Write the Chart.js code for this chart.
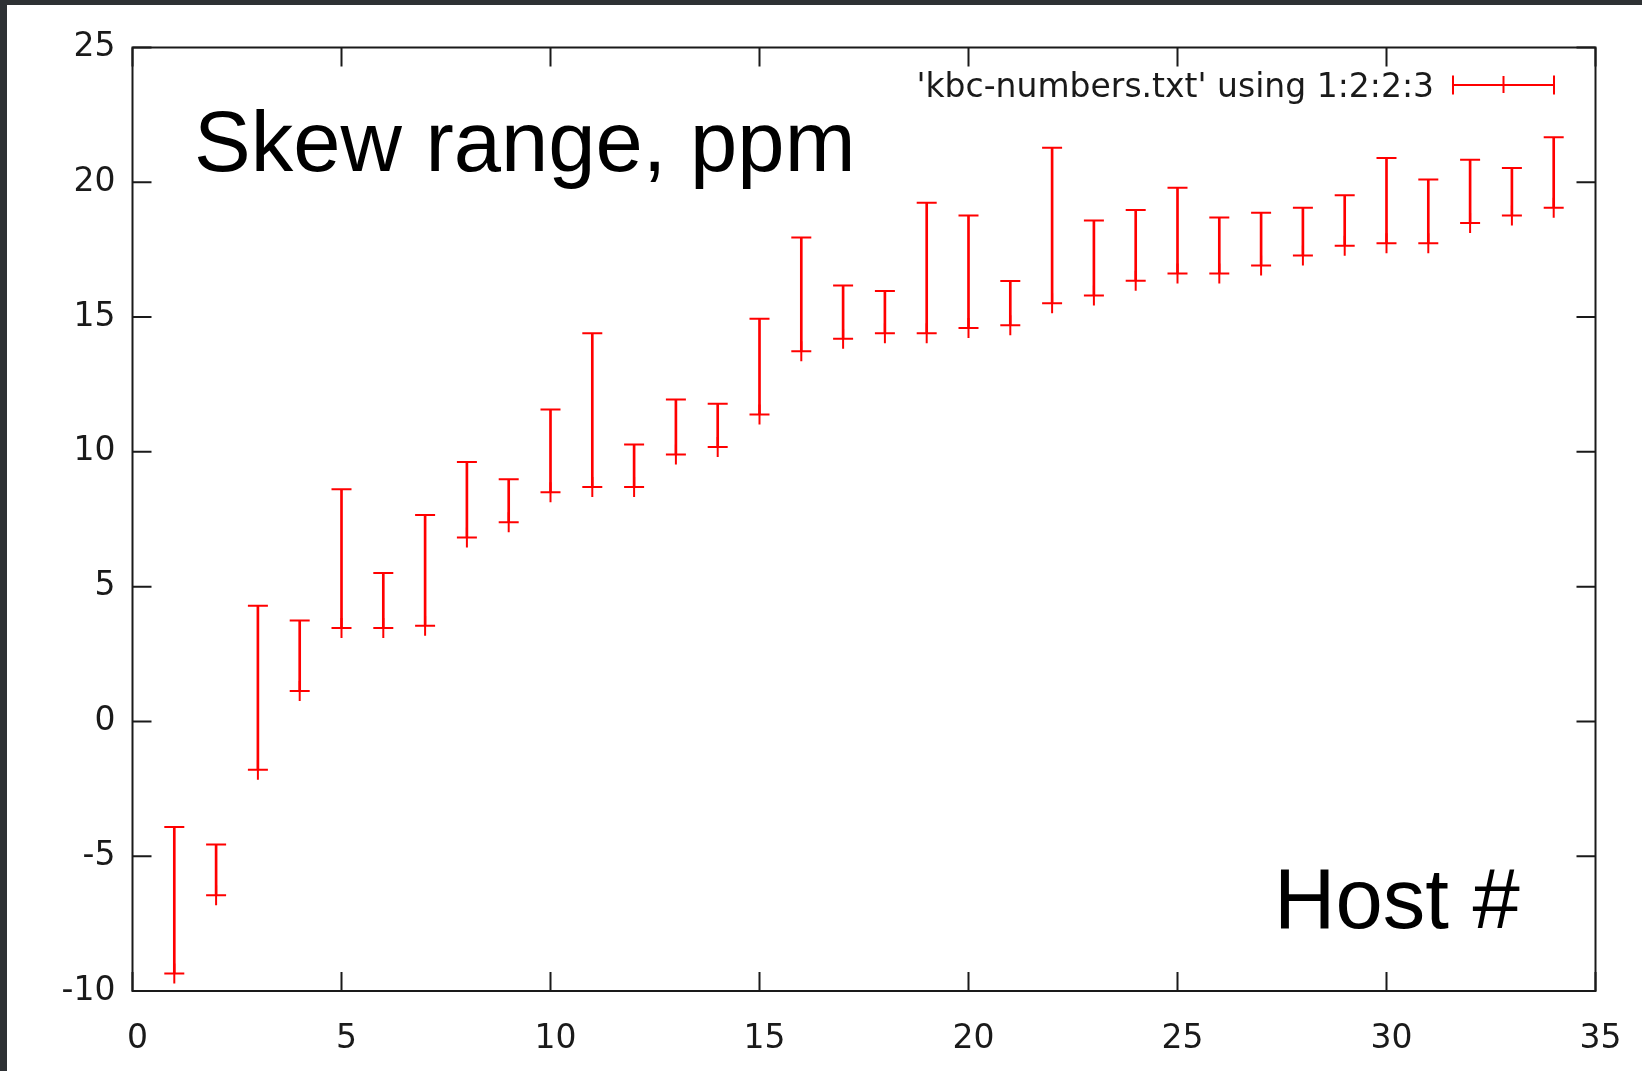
<!DOCTYPE html>
<html>
<head>
<meta charset="utf-8">
<title>Skew range, ppm</title>
<script src="https://cdn.jsdelivr.net/npm/chart.js@4.4.1/dist/chart.umd.min.js"></script>
<style>
  html, body { margin: 0; padding: 0; }
  body { width: 1642px; height: 1071px; background: #2e3134; position: relative; overflow: hidden; }
  #wrap { position: absolute; left: 7px; top: 5px; width: 1635px; height: 1066px; background: #fff; }
  canvas { display: block; }
</style>
</head>
<body>
<div id="wrap"><canvas id="chart" width="1635" height="1066"></canvas></div>
<script>
// host number, lowest and highest skew seen (ppm)
const hosts = [1, 2, 3, 4, 5, 6, 7, 8, 9, 10, 11, 12, 13, 14, 15, 16, 17,
  18, 19, 20, 21, 22, 23, 24, 25, 26, 27, 28, 29, 30, 31, 32, 33, 34];
const skewLow = [-9.35, -6.45, -1.79, 1.13, 3.47, 3.47, 3.55, 6.82, 7.39, 8.5,
  8.7, 8.7, 9.9, 10.18, 11.39, 13.73, 14.2, 14.4, 14.4, 14.59, 14.7, 15.51,
  15.8, 16.35, 16.62, 16.62, 16.91, 17.28, 17.65, 17.74, 17.74, 18.49, 18.77, 19.06];
const skewHigh = [-3.92, -4.57, 4.29, 3.74, 8.61, 5.51, 7.66, 9.62, 8.98, 11.57,
  14.4, 10.27, 11.94, 11.78, 14.94, 17.95, 16.17, 15.97, 19.24, 18.77, 16.34, 21.28,
  18.58, 18.97, 19.8, 18.69, 18.87, 19.06, 19.52, 20.9, 20.1, 20.84, 20.53, 21.67];

const xTicks = [0, 5, 10, 15, 20, 25, 30, 35];
const yTicks = [-10, -5, 0, 5, 10, 15, 20, 25];

const seriesLabel = "'kbc-numbers.txt' using 1:2:2:3";
const titleText = 'Skew range, ppm';
const xLabelText = 'Host #';

const RED = '#ff0000';
const INK = '#1a1a1a';
const TICK_LEN = 19;

Chart.defaults.font.family = "'DejaVu Sans', sans-serif";

// gnuplot style box: border, inward ticks on all four sides, labels and key
const gnuplotFrame = {
  id: 'gnuplotFrame',
  afterDatasetsDraw(chart) {
    const { ctx, chartArea: a, scales: { x, y } } = chart;
    ctx.save();
    ctx.strokeStyle = INK;
    ctx.lineWidth = 2;
    ctx.beginPath();
    xTicks.forEach(v => {
      const px = x.getPixelForValue(v);
      ctx.moveTo(px, a.bottom); ctx.lineTo(px, a.bottom - TICK_LEN);
      ctx.moveTo(px, a.top); ctx.lineTo(px, a.top + TICK_LEN);
    });
    yTicks.forEach(v => {
      const py = y.getPixelForValue(v);
      ctx.moveTo(a.left, py); ctx.lineTo(a.left + TICK_LEN, py);
      ctx.moveTo(a.right, py); ctx.lineTo(a.right - TICK_LEN, py);
    });
    ctx.stroke();
    ctx.strokeRect(a.left, a.top, a.right - a.left, a.bottom - a.top);

    // big labels placed inside the plot
    ctx.fillStyle = '#000';
    ctx.textBaseline = 'alphabetic';
    ctx.textAlign = 'left';
    ctx.font = "85px 'Liberation Sans', Arial, sans-serif";
    ctx.fillText(titleText, a.left + 61.5, a.top + 123);
    ctx.fillText(xLabelText, a.left + 1141.5, a.top + 880.5);

    // key
    ctx.font = "33px 'DejaVu Sans', sans-serif";
    ctx.fillStyle = INK;
    ctx.textAlign = 'right';
    ctx.fillText(seriesLabel, a.left + 1301.5, a.top + 49);
    const ky = a.top + 37.5, k0 = a.left + 1320.5, k1 = a.left + 1421.5;
    ctx.strokeStyle = RED;
    ctx.beginPath();
    ctx.moveTo(k0, ky); ctx.lineTo(k1, ky);
    ctx.moveTo(k0, ky - 9.5); ctx.lineTo(k0, ky + 9.5);
    ctx.moveTo(k1, ky - 9.5); ctx.lineTo(k1, ky + 9.5);
    ctx.moveTo((k0 + k1) / 2, ky - 9); ctx.lineTo((k0 + k1) / 2, ky + 8);
    ctx.stroke();
    ctx.restore();
  }
};

const ctx = document.getElementById('chart').getContext('2d');
new Chart(ctx, {
  type: 'scatter',
  data: {
    datasets: [
      {
        type: 'bar',
        label: seriesLabel,
        data: hosts.map((h, i) => ({ x: h, y: [skewLow[i], skewHigh[i]] })),
        backgroundColor: RED,
        borderWidth: 0,
        barThickness: 2,
        order: 2
      },
      {
        label: 'high',
        data: hosts.map((h, i) => ({ x: h, y: skewHigh[i] })),
        pointStyle: 'line',
        radius: 10,
        borderColor: RED,
        borderWidth: 2,
        order: 1
      },
      {
        label: 'low',
        data: hosts.map((h, i) => ({ x: h, y: skewLow[i] })),
        pointStyle: 'cross',
        radius: 10,
        borderColor: RED,
        borderWidth: 2,
        order: 1
      }
    ]
  },
  options: {
    responsive: false,
    animation: false,
    devicePixelRatio: 1,
    events: [],
    layout: { padding: { top: 42.5, right: 46.5, left: 0, bottom: 0 } },
    plugins: {
      legend: { display: false },
      tooltip: { enabled: false }
    },
    scales: {
      x: {
        type: 'linear',
        min: 0,
        max: 35,
        offset: false,
        grid: { display: false, drawTicks: false },
        border: { display: false },
        ticks: { stepSize: 5, maxRotation: 0, padding: 29, labelOffset: 5,
          color: INK, font: { size: 33 } },
        afterBuildTicks: s => { s.ticks = xTicks.map(v => ({ value: v })); },
        afterFit: s => { s.height = 80; s.paddingLeft = 0; s.paddingRight = 0; }
      },
      y: {
        type: 'linear',
        min: -10,
        max: 25,
        beginAtZero: false,
        grid: { display: false, drawTicks: false },
        border: { display: false },
        ticks: { stepSize: 5, padding: 17, color: INK, font: { size: 33 } },
        afterBuildTicks: s => { s.ticks = yTicks.map(v => ({ value: v })); },
        afterFit: s => { s.width = 125.5; s.paddingTop = 0; s.paddingBottom = 0; }
      }
    }
  },
  plugins: [gnuplotFrame]
});
</script>
</body>
</html>
